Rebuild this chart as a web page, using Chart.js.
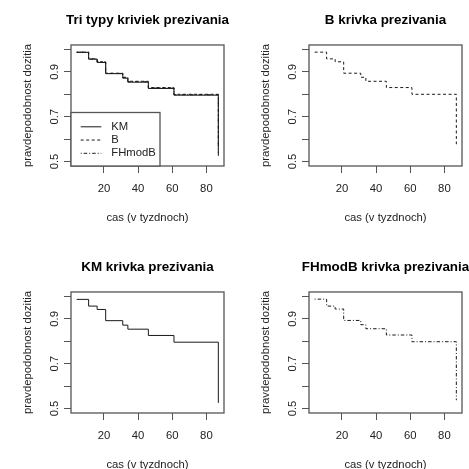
<!DOCTYPE html>
<html>
<head>
<meta charset="utf-8">
<title>Krivky prezivania</title>
<script src="https://cdn.jsdelivr.net/npm/chart.js@4.4.1/dist/chart.umd.min.js"></script>
<style>
  html, body { margin: 0; padding: 0; background: #fff; overflow: hidden; }
  #plots { position: relative; width: 469px; height: 469px; overflow: hidden; }
  #plots canvas { position: absolute; }
</style>
</head>
<body>
<div id="plots">
  <canvas id="p1" width="295" height="235" style="left:0;top:0"></canvas>
  <canvas id="p2" width="295" height="235" style="left:238px;top:0"></canvas>
  <canvas id="p3" width="295" height="235" style="left:0;top:247px"></canvas>
  <canvas id="p4" width="295" height="235" style="left:238px;top:247px"></canvas>
</div>
<script>
// cas v tyzdnoch a odhady prezivania
const casy = [4, 11, 16, 21, 31, 34, 46, 61, 87];
const prezitieKM = [0.987, 0.957, 0.942, 0.892, 0.872, 0.854, 0.826, 0.796, 0.525];
const prezitieB = [0.988, 0.958, 0.945, 0.894, 0.876, 0.858, 0.830, 0.800, 0.577];
const prezitieFH = [0.988, 0.957, 0.944, 0.893, 0.874, 0.856, 0.828, 0.798, 0.537];

const xTicky = [20, 40, 60, 80];
const yTicky = [0.5, 0.6, 0.7, 0.8, 0.9, 1.0];
const yPopisy = [0.5, 0.7, 0.9];
const yRozsah = [0.5, 1];

const FONT = "'Liberation Sans', Arial, sans-serif";
const dash = { KM: [], B: [3, 2.5], FHmodB: [1, 2, 3.5, 2] };

// R-like limits: data range plus 4% on each side
const xSpan = casy[casy.length - 1] - casy[0];
const xMin = casy[0] - 0.04 * xSpan, xMax = casy[casy.length - 1] + 0.04 * xSpan;
const ySpan = yRozsah[1] - yRozsah[0];
const yMin = yRozsah[0] - 0.04 * ySpan, yMax = yRozsah[1] + 0.04 * ySpan;

function krivka(nazov, hodnoty) {
  return {
    label: nazov,
    data: casy.map((t, i) => ({ x: t, y: hodnoty[i] })),
    borderColor: '#1a1a1a',
    borderWidth: 1,
    borderDash: dash[nazov],
    pointRadius: 0,
    stepped: true,
    fill: false
  };
}

// box around the plot region
const ramik = {
  id: 'ramik',
  afterDatasetsDraw(chart) {
    const { ctx, chartArea: a } = chart;
    ctx.save();
    ctx.strokeStyle = '#555';
    ctx.lineWidth = 1.3;
    ctx.strokeRect(a.left, a.top, a.right - a.left, a.bottom - a.top);
    ctx.restore();
  }
};

// boxed legend in the bottom-left corner
const legenda = {
  id: 'legenda',
  afterDraw(chart, args, opts) {
    if (!opts.show) return;
    const { ctx, chartArea: a } = chart;
    const w = 89, h = 53.5;
    const x0 = a.left, y0 = a.bottom - h;
    ctx.save();
    ctx.fillStyle = '#fff';
    ctx.fillRect(x0, y0, w, h);
    ctx.strokeStyle = '#555';
    ctx.lineWidth = 1.3;
    ctx.strokeRect(x0, y0, w, h);
    ctx.font = '11.3px ' + FONT;
    ctx.textBaseline = 'middle';
    chart.data.datasets.forEach((ds, i) => {
      const y = y0 + 14.3 + i * 13.25;
      ctx.strokeStyle = ds.borderColor;
      ctx.lineWidth = 1;
      ctx.setLineDash(ds.borderDash);
      ctx.beginPath();
      ctx.moveTo(x0 + 9.7, y);
      ctx.lineTo(x0 + 30.3, y);
      ctx.stroke();
      ctx.setLineDash([]);
      ctx.fillStyle = '#222';
      ctx.fillText(ds.label, x0 + 40.3, y);
    });
    ctx.restore();
  }
};

const font = { family: FONT, size: 11.3, lineHeight: 1.2 };

function graf(id, nadpis, datasets, sLegendou) {
  new Chart(document.getElementById(id), {
    type: 'line',
    data: { datasets: datasets },
    options: {
      responsive: false,
      animation: false,
      events: [],
      layout: { padding: 0 },
      plugins: {
        legend: { display: false },
        tooltip: { enabled: false },
        title: {
          display: true,
          text: nadpis,
          color: '#000',
          font: { family: FONT, size: 13.4, weight: 'bold', lineHeight: 1.2 },
          padding: { top: 12, bottom: 16.9 }
        },
        legenda: { show: sLegendou }
      },
      scales: {
        x: {
          type: 'linear',
          min: xMin,
          max: xMax,
          afterBuildTicks: s => { s.ticks = xTicky.map(v => ({ value: v })); },
          afterFit: s => { s.height = 69; },
          grid: { drawOnChartArea: false, tickLength: 7, color: '#555' },
          border: { display: false },
          ticks: { color: '#222', font: font, padding: 8.7, maxRotation: 0, autoSkip: false },
          title: { display: true, text: 'cas (v tyzdnoch)', color: '#222', font: font, padding: { top: 0, bottom: 10.7 } }
        },
        y: {
          type: 'linear',
          min: yMin,
          max: yMax,
          afterBuildTicks: s => { s.ticks = yTicky.map(v => ({ value: v })); },
          afterFit: s => { s.width = 71; },
          grid: { drawOnChartArea: false, tickLength: 7, color: '#555' },
          border: { display: false },
          ticks: {
            color: '#222', font: font, padding: 1.6,
            minRotation: 90, maxRotation: 90, crossAlign: 'center', autoSkip: false,
            callback: v => yPopisy.includes(v) ? v.toFixed(1) : ''
          },
          title: { display: true, text: 'pravdepodobnost dozitia', color: '#222', font: font, padding: { top: 21.5, bottom: 0 } }
        },
        // empty right margin so the title centres over the plot
        okraj: {
          type: 'linear',
          position: 'right',
          afterFit: s => { s.width = 71; },
          grid: { display: false },
          border: { display: false },
          ticks: { display: false }
        }
      }
    },
    plugins: [ramik, legenda]
  });
}

graf('p1', 'Tri typy kriviek prezivania',
  [krivka('KM', prezitieKM), krivka('B', prezitieB), krivka('FHmodB', prezitieFH)], true);
graf('p2', 'B krivka prezivania', [krivka('B', prezitieB)], false);
graf('p3', 'KM krivka prezivania', [krivka('KM', prezitieKM)], false);
graf('p4', 'FHmodB krivka prezivania', [krivka('FHmodB', prezitieFH)], false);
</script>
</body>
</html>
